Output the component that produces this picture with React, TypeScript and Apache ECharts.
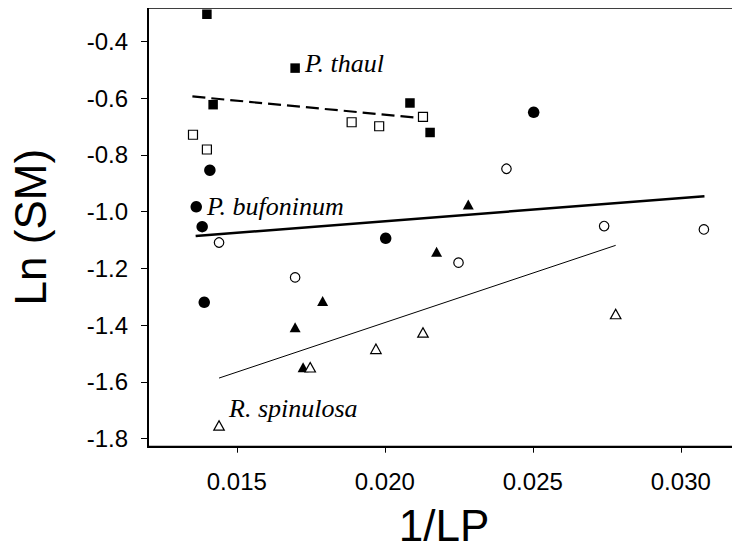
import React, { useEffect, useRef } from "react";
import * as echarts from "echarts";

// P. thaul (squares)
const thaulFilled: number[][] = [
  [0.01399, -0.304], [0.01697, -0.494], [0.0142, -0.623], [0.02085, -0.617], [0.02153, -0.721],
];
const thaulOpen: number[][] = [
  [0.01352, -0.729], [0.01399, -0.781], [0.01888, -0.685], [0.01981, -0.699], [0.02129, -0.666],
];
// P. bufoninum (circles)
const bufFilled: number[][] = [
  [0.01409, -0.854], [0.01363, -0.983], [0.01383, -1.053], [0.0139, -1.32], [0.02003, -1.094], [0.02503, -0.65],
];
const bufOpen: number[][] = [
  [0.0144, -1.109], [0.01697, -1.232], [0.02249, -1.18], [0.02411, -0.849], [0.02741, -1.051], [0.03078, -1.063],
];
// R. spinulosa (triangles)
const spinFilled: number[][] = [
  [0.02282, -0.975], [0.0179, -1.315], [0.01697, -1.408], [0.01724, -1.549], [0.02175, -1.142],
];
const spinOpen: number[][] = [
  [0.01748, -1.549], [0.0197, -1.484], [0.02129, -1.426], [0.0278, -1.361], [0.0144, -1.754],
];
// regression lines
const thaulFit: number[][] = [[0.0135, -0.594], [0.0214, -0.672]];
const bufFit: number[][] = [[0.01361, -1.086], [0.0308, -0.946]];
const spinFit: number[][] = [[0.0144, -1.587], [0.0278, -1.119]];

const xTicks = [0.015, 0.02, 0.025, 0.03];
const yTicks = [-1.8, -1.6, -1.4, -1.2, -1.0, -0.8, -0.6, -0.4];

const SANS = '"Liberation Sans", Arial, sans-serif';
const SERIF = '"Liberation Serif", "Times New Roman", serif';

export default function App() {
  const ref = useRef<HTMLDivElement>(null);
  useEffect(() => {
    if (!ref.current) return;
    const chart = echarts.init(ref.current, undefined, { renderer: "svg" });
    const filled = (name: string, data: number[][], symbol: string, size: any) => ({
      name, type: "scatter", data, symbol, symbolSize: size,
      itemStyle: { color: "#000", borderWidth: 0, opacity: 1 }, z: 5,
    });
    const open = (name: string, data: number[][], symbol: string, size: any) => ({
      name, type: "scatter", data, symbol, symbolSize: size,
      itemStyle: { color: "#fff", borderColor: "#000", borderWidth: 1.2, opacity: 1 }, z: 5,
    });
    const fit = (name: string, data: number[][], width: number, type: any) => ({
      name, type: "line", data, symbol: "none", silent: true,
      lineStyle: { color: "#000", width, type }, z: 3,
    });
    chart.setOption({
      animation: false,
      backgroundColor: "#fff",
      grid: {
        left: 141, top: 7.7, right: -10.6, bottom: 113.3,
        show: true, borderColor: "#000", borderWidth: 2, backgroundColor: "transparent",
      },
      xAxis: {
        type: "value", min: 0.012, max: 0.032,
        name: "1/LP", nameLocation: "middle", nameGap: 57,
        nameTextStyle: { fontSize: 44, fontFamily: SANS, color: "#000" },
        axisLine: { show: true, lineStyle: { color: "#000", width: 2 } },
        axisTick: { show: true, inside: false, length: 6, customValues: xTicks, lineStyle: { color: "#000", width: 1 } },
        axisLabel: {
          customValues: xTicks, margin: 23, fontSize: 24, fontFamily: SANS, color: "#000",
          formatter: (v: number) => v.toFixed(3),
        },
        splitLine: { show: false },
      },
      yAxis: {
        type: "value", min: -1.829, max: -0.281,
        name: "Ln (SM)", nameLocation: "middle", nameGap: 96,
        nameTextStyle: { fontSize: 44, fontFamily: SANS, color: "#000" },
        axisLine: { show: true, lineStyle: { color: "#000", width: 2 } },
        axisTick: { show: true, inside: false, length: 7, customValues: yTicks, lineStyle: { color: "#000", width: 1 } },
        axisLabel: {
          customValues: yTicks, margin: 20, fontSize: 24, fontFamily: SANS, color: "#000",
          formatter: (v: number) => v.toFixed(1),
        },
        splitLine: { show: false },
      },
      graphic: [
        { type: "text", x: 305, y: 63, style: { text: "P. thaul", font: `italic 26px ${SERIF}`, fill: "#000", verticalAlign: "middle" } },
        { type: "text", x: 207, y: 206, style: { text: "P. bufoninum", font: `italic 26px ${SERIF}`, fill: "#000", verticalAlign: "middle" } },
        { type: "text", x: 229, y: 408, style: { text: "R. spinulosa", font: `italic 26px ${SERIF}`, fill: "#000", verticalAlign: "middle" } },
      ],
      series: [
        fit("thaulFit", thaulFit, 2.2, [13, 6]),
        fit("bufFit", bufFit, 2.5, "solid"),
        fit("spinFit", spinFit, 1, "solid"),
        filled("P. thaul filled", thaulFilled, "rect", 9.5),
        open("P. thaul open", thaulOpen, "rect", 9),
        filled("P. bufoninum filled", bufFilled, "circle", 11.5),
        open("P. bufoninum open", bufOpen, "circle", 9.5),
        filled("R. spinulosa filled", spinFilled, "triangle", [11, 10]),
        open("R. spinulosa open", spinOpen, "triangle", [10.5, 9.5]),
      ],
    });
    return () => chart.dispose();
  }, []);
  return <div ref={ref} style={{ width: 740, height: 560, margin: -8 }} />;
}
